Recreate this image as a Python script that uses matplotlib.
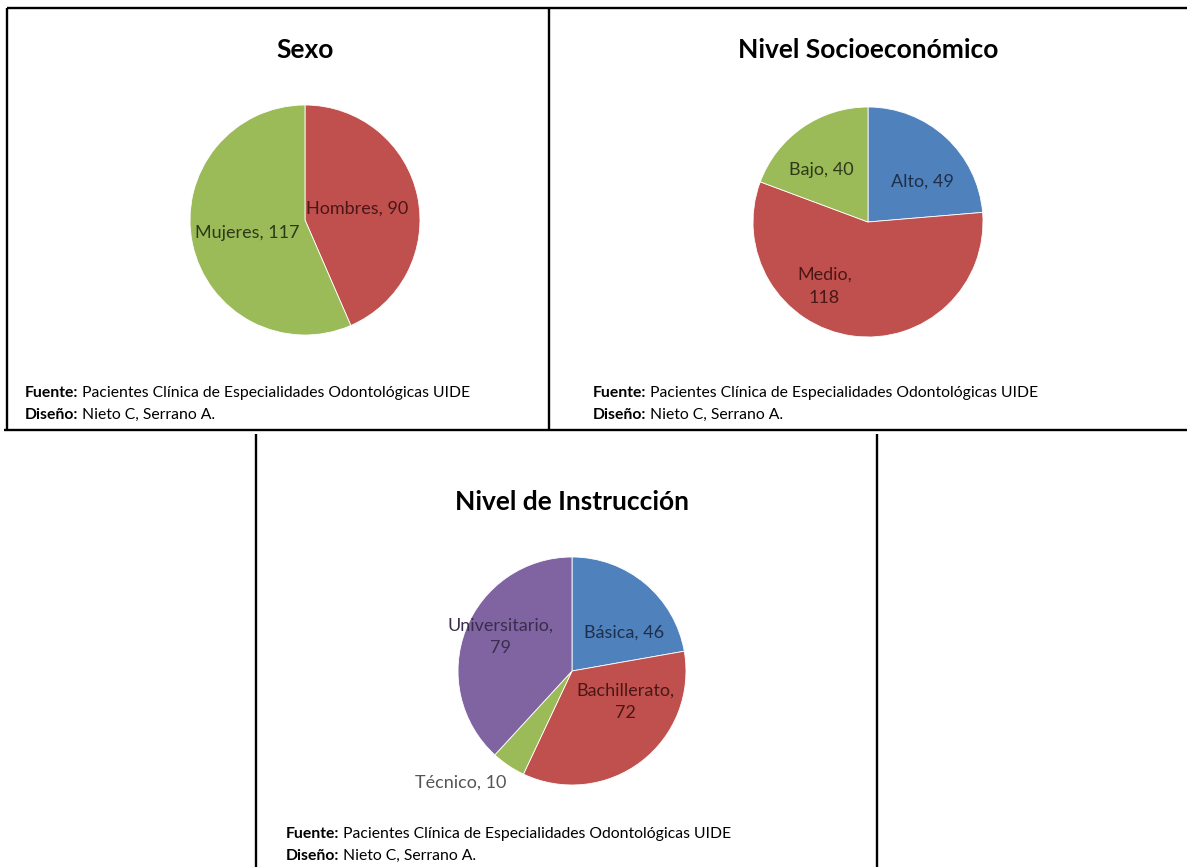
import matplotlib
matplotlib.use("Agg")
import matplotlib.pyplot as plt

plt.rcParams['font.family'] = ['Lato', 'DejaVu Sans']

# ===== DATA =====
sexo_labels = ["Hombres", "Mujeres"]
sexo_values = [90, 117]

socio_labels = ["Alto", "Medio", "Bajo"]
socio_values = [49, 118, 40]

instr_labels = ["Básica", "Bachillerato", "Técnico", "Universitario"]
instr_values = [46, 72, 10, 79]

fuente = "Pacientes Clínica de Especialidades Odontológicas UIDE"
diseno = "Nieto C, Serrano A."

# ===== STYLE =====
BLUE, RED, GREEN, PURPLE = "#4F81BD", "#C0504D", "#9BBB59", "#8064A2"
DK = {BLUE: "#1e2f4a", RED: "#4a1716", GREEN: "#2c3a17", PURPLE: "#3a2d4c"}

W, H = 1187, 867
fig = plt.figure(figsize=(W / 100, H / 100), dpi=100)

bg = fig.add_axes([0, 0, 1, 1])
bg.set_xlim(0, W)
bg.set_ylim(H, 0)
bg.axis("off")

# marcos
for (x0, y0, x1, y1) in [(7, 8, 1187, 8), (7, 8, 7, 431), (549, 8, 549, 431),
                         (4, 430, 1187, 430), (256, 434, 256, 867),
                         (877, 434, 877, 867)]:
    bg.plot([x0, x1], [y0, y1], color="black", lw=1.7, solid_capstyle="butt")


def draw_pie(cx, cy, r, title, ty, labels, values, colors, label_pos,
             label_colors, wrap):
    pad = 1.4
    ax = fig.add_axes([(cx - pad * r) / W, 1 - (cy + pad * r) / H,
                       2 * pad * r / W, 2 * pad * r / H])
    ax.pie(values, colors=colors, startangle=90, counterclock=False,
           radius=1, wedgeprops=dict(linewidth=0.6, edgecolor="white"))
    ax.set_xlim(-pad, pad)
    ax.set_ylim(-pad, pad)
    ax.axis("off")
    for lab, val, (lx, ly), lc, w in zip(labels, values, label_pos, label_colors, wrap):
        txt = f"{lab},\n{val}" if w else f"{lab}, {val}"
        ax.text(lx, ly, txt, ha="center", va="center", fontsize=13,
                color=lc, linespacing=1.55)
    bg.text(cx, ty, title, ha="center", va="center", fontsize=19, fontweight="bold")


def footer(x, y1, y2):
    t1 = bg.text(x, y1, "Fuente:", ha="left", va="center", fontsize=11.3, fontweight="bold")
    bg.annotate(" " + fuente, xy=(1, 0.5), xycoords=t1, ha="left", va="center", fontsize=11.3)
    t2 = bg.text(x, y2, "Diseño:", ha="left", va="center", fontsize=11.3, fontweight="bold")
    bg.annotate(" " + diseno, xy=(1, 0.5), xycoords=t2, ha="left", va="center", fontsize=11.3)


# Sexo
draw_pie(305, 220, 115, "Sexo", 50, sexo_labels, sexo_values, [RED, GREEN],
         [(0.45, 0.10), (-0.50, -0.11)], [DK[RED], DK[GREEN]], [False, False])
footer(25, 393, 415)

# Nivel Socioeconómico
draw_pie(868, 222, 115, "Nivel Socioeconómico", 50,
         socio_labels, socio_values, [BLUE, RED, GREEN],
         [(0.47, 0.35), (-0.38, -0.56), (-0.41, 0.45)],
         [DK[BLUE], DK[RED], DK[GREEN]], [False, True, False])
footer(593, 393, 415)

# Nivel de Instrucción
draw_pie(572, 671, 114, "Nivel de Instrucción", 502,
         instr_labels, instr_values, [BLUE, RED, GREEN, PURPLE],
         [(0.46, 0.34), (0.47, -0.27), (-0.98, -0.98), (-0.63, 0.30)],
         [DK[BLUE], DK[RED], "#555555", DK[PURPLE]], [False, True, False, True])
footer(286, 834, 856)

fig.savefig("out.png", dpi=100)
